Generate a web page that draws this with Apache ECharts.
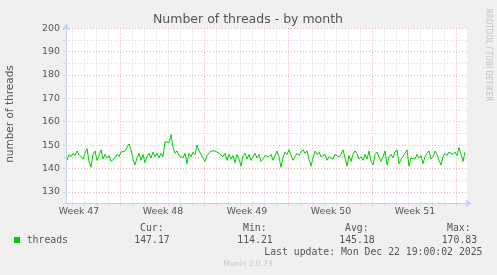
<!DOCTYPE html>
<html><head><meta charset="utf-8">
<script src="https://cdn.jsdelivr.net/npm/echarts@6/dist/echarts.min.js"></script>
<style>html,body{margin:0;padding:0;background:#f0f0f0}#c{width:497px;height:275px}</style>
</head><body><div id="c"></div>
<script>
const chartTitle = 'Number of threads - by month';
const yAxisName = 'number of threads';
const watermark = 'RRDTOOL / TOBI OETIKER';
const weekLabels = ['Week 47', 'Week 48', 'Week 49', 'Week 50', 'Week 51'];
const threads = [
  143.5, 146, 145, 146.5, 145.5, 147.5, 146, 145, 144, 146.5,
  148.5, 143, 140.5, 146, 147.5, 143.5, 145.5, 148, 144, 146,
  144.5, 145.5, 143, 143.5, 144.5, 146, 145, 147, 146.5, 147.5,
  149, 150.5, 148, 144, 141.5, 144.5, 146.5, 143.5, 146, 142.5,
  145, 146.5, 144.5, 147, 145, 146.5, 144.5, 146.5, 145, 151.5,
  151.5, 151, 154.5, 149, 146.5, 147.5, 145.5, 146, 144.5, 146.5,
  142, 146.5, 145, 147, 146, 150, 147.5, 146, 145.5, 143,
  145.5, 146, 147.5, 148, 147.5, 148, 146.5, 147, 145, 146.5,
  143.5, 146, 144, 145.5, 142.5, 146, 144, 141, 145.5, 146.5,
  144, 146, 143.5, 145, 146.5, 144.5, 146, 143, 144, 145.5,
  146, 145, 146, 143.5, 144, 147.5, 145, 140.5, 144.5, 147,
  146, 148, 145.5, 143.5, 145, 146.5, 145.5, 147, 148, 146.5,
  147.5, 144, 141, 144.5, 147.5, 146, 147, 145, 144.5, 146,
  143.5, 145, 145.5, 144, 146, 146.5, 145, 146, 148, 144.5,
  141, 145.5, 143, 146, 147.5, 146.5, 144, 145, 143.5, 146,
  144, 147.5, 143, 141.5, 146, 147, 146.5, 143, 145, 147.5,
  141.5, 145, 146, 144.5, 147, 148, 142, 144, 145, 146.5,
  148, 141, 144.5, 145, 144, 146, 144.5, 145.5, 142, 145,
  146.5, 147.5, 144, 145, 147.5, 146, 143.5, 141.5, 145, 146.5,
  145.5, 147, 146.5, 146, 147, 145.5, 149, 146, 143, 147
];
const legendName = 'threads';
const legendHeaders = ['Cur:', 'Min:', 'Avg:', 'Max:'];
const legendValues = ['147.17', '114.21', '145.18', '170.83'];
const lastUpdate = 'Last update: Mon Dec 22 19:00:02 2025';
const version = 'Munin 2.0.73';

// 2-hour slots across the month view
const slotCount = 402;
const slots = Array.from({length: slotCount}, (_, i) => String(i));
const seriesData = slots.map((s, i) => (i % 2 === 1 && (i - 1) / 2 < threads.length) ? threads[(i - 1) / 2] : null);
const dayOffset = 6, daySlots = 12, weekSlots = 84, weekLabelOffset = 13;

const GREEN = '#00cc00';
const TXT = '#555';
const AXIS = '#c8cff5';
const GRAY = '#d4d4d4';
const RED = '#efb0b0';

const chart = echarts.init(document.getElementById('c'), null, {renderer: 'canvas'});
const monoX = [140, 243, 345, 447];
const valX = [134.3, 237.3, 339.3, 441.7];
const graphics = [
  {type: 'text', x: 248, y: 19.5, style: {text: chartTitle, fontSize: 12.5, fontFamily: 'DejaVu Sans', fill: TXT, align: 'center', verticalAlign: 'middle'}},
  {type: 'text', x: 10.5, y: 114, rotation: Math.PI / 2, style: {text: yAxisName, fontSize: 10.5, fontFamily: 'DejaVu Sans', fill: TXT, align: 'center', verticalAlign: 'middle'}},
  {type: 'text', x: 488, y: 55, rotation: -Math.PI / 2, scaleX: 0.8, style: {text: watermark, fontSize: 9, fontFamily: 'DejaVu Sans', fill: '#c4c4c4', align: 'center', verticalAlign: 'middle'}},
  {type: 'rect', shape: {x: 14, y: 237, width: 6, height: 6}, style: {fill: GREEN}},
  {type: 'text', x: 26.7, y: 240, style: {text: legendName, fontSize: 9.8, fontFamily: 'DejaVu Sans Mono', fill: TXT, align: 'left', verticalAlign: 'middle'}},
  {type: 'text', x: 482.5, y: 252, style: {text: lastUpdate, fontSize: 9.8, fontFamily: 'DejaVu Sans Mono', fill: TXT, align: 'right', verticalAlign: 'middle'}},
  {type: 'text', x: 248, y: 264, style: {text: version, fontSize: 7.5, fontFamily: 'DejaVu Sans', fill: '#c8c8c8', align: 'center', verticalAlign: 'middle'}}
];
legendHeaders.forEach((h, k) => {
  graphics.push({type: 'text', x: monoX[k], y: 228, style: {text: h, fontSize: 9.8, fontFamily: 'DejaVu Sans Mono', fill: TXT, align: 'left', verticalAlign: 'middle'}});
  graphics.push({type: 'text', x: valX[k], y: 240, style: {text: legendValues[k], fontSize: 9.8, fontFamily: 'DejaVu Sans Mono', fill: TXT, align: 'left', verticalAlign: 'middle'}});
});

chart.setOption({
  animation: false,
  backgroundColor: '#f0f0f0',
  grid: {left: 66, right: 30, top: 28.3, bottom: 71.5, show: true, backgroundColor: '#ffffff', borderWidth: 0, containLabel: false},
  xAxis: {
    type: 'category', data: slots, boundaryGap: false,
    axisLine: {show: true, lineStyle: {color: AXIS, width: 1}, symbol: ['none', 'arrow'], symbolSize: [6, 7], symbolOffset: [0, 5]},
    axisTick: {show: true, length: 2, interval: (i) => i >= dayOffset && (i - dayOffset) % daySlots === 0, lineStyle: {color: GRAY}},
    axisLabel: {
      show: true, margin: 4, fontSize: 9.4, fontFamily: 'DejaVu Sans', color: TXT,
      interval: (i) => i >= weekLabelOffset && (i - weekLabelOffset) % weekSlots === 0,
      formatter: (v, i) => weekLabels[(i - weekLabelOffset) / weekSlots] || ''
    },
    splitLine: {
      show: true,
      interval: (i) => i >= dayOffset && (i - dayOffset) % daySlots === 0,
      lineStyle: {color: [GRAY, GRAY, GRAY, GRAY, RED, GRAY, GRAY], type: [1, 2], width: 1}
    }
  },
  yAxis: {
    type: 'value', min: 125, max: 200, interval: 5,
    axisLine: {show: true, lineStyle: {color: AXIS, width: 1}, symbol: ['none', 'arrow'], symbolSize: [6, 7], symbolOffset: [0, 5]},
    axisTick: {show: true, length: 3, lineStyle: {color: GRAY}},
    axisLabel: {margin: 6, fontSize: 9.4, fontFamily: 'DejaVu Sans', color: TXT, formatter: (v) => (v % 10 === 0 ? String(v) : '')},
    splitLine: {show: true, lineStyle: {color: [GRAY, RED], type: [1, 2], width: 1}}
  },
  series: [{
    name: legendName, type: 'line', data: seriesData, connectNulls: true,
    showSymbol: false, symbol: 'none', lineStyle: {color: GREEN, width: 1}, itemStyle: {color: GREEN}, z: 5
  }],
  graphic: graphics
});
</script></body></html>
